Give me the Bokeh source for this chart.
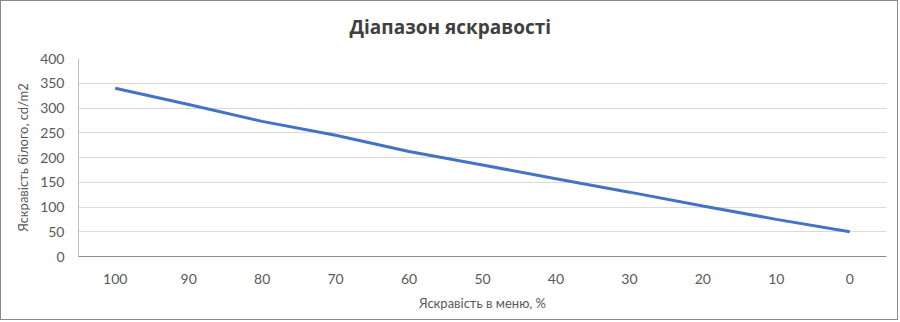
from bokeh.plotting import figure
from bokeh.models import Range1d, FactorRange, FixedTicker, ColumnDataSource, Title
from bokeh.embed import file_html
from bokeh.resources import INLINE

categories = ["100", "90", "80", "70", "60", "50", "40", "30", "20", "10", "0"]
brightness = [340, 307, 273, 245, 212, 185, 157, 130, 102, 75, 50]
y_ticks = [0, 50, 100, 150, 200, 250, 300, 350, 400]
title_text = "Діапазон яскравості"

src = ColumnDataSource(data=dict(x=categories, y=brightness))

p = figure(width=898, height=320, x_range=FactorRange(*categories), title=None,
           y_range=Range1d(0, 400), output_backend="svg", toolbar_location=None,
           min_border_left=77, min_border_right=13, min_border_top=57, min_border_bottom=65,
           styles={"border": "1px solid #8a8a8a"})

p.line("x", "y", source=src, line_color="#4472C4", line_width=3)

spacer = Title(text=" ", text_font_size="15px", standoff=0)
main_title = Title(text=title_text, align="left", offset=271, standoff=0,
                   text_font="Open Sans", text_font_size="19px", text_font_style="bold",
                   text_color="#404040")
p.add_layout(spacer, "above")
p.add_layout(main_title, "above")

p.outline_line_color = None
p.xgrid.grid_line_color = None
p.ygrid.grid_line_color = "#d9d9d9"
p.ygrid.grid_line_width = 1

p.yaxis.ticker = FixedTicker(ticks=y_ticks)
for ax in (p.xaxis[0], p.yaxis[0]):
    ax.major_tick_line_color = None
    ax.minor_tick_line_color = None
    ax.major_label_text_font = "Lato"
    ax.major_label_text_font_size = "14px"
    ax.major_label_text_color = "#595959"
    ax.axis_label_text_font = "Lato"
    ax.axis_label_text_font_size = "13px"
    ax.axis_label_text_font_style = "normal"
    ax.axis_label_text_color = "#595959"

p.yaxis.axis_line_color = "#bfbfbf"
p.xaxis.axis_line_color = "#8c8c8c"
p.yaxis.axis_label = "Яскравість білого, cd/m2"
p.xaxis.axis_label = "Яскравість в меню, %"
p.xaxis.major_label_standoff = 11
p.xaxis.axis_label_standoff = 8
p.yaxis.major_label_standoff = 8
p.yaxis.axis_label_standoff = 6

p.background_fill_color = "white"
p.border_fill_color = "white"

open("out.html", "w").write(file_html(p, INLINE))
